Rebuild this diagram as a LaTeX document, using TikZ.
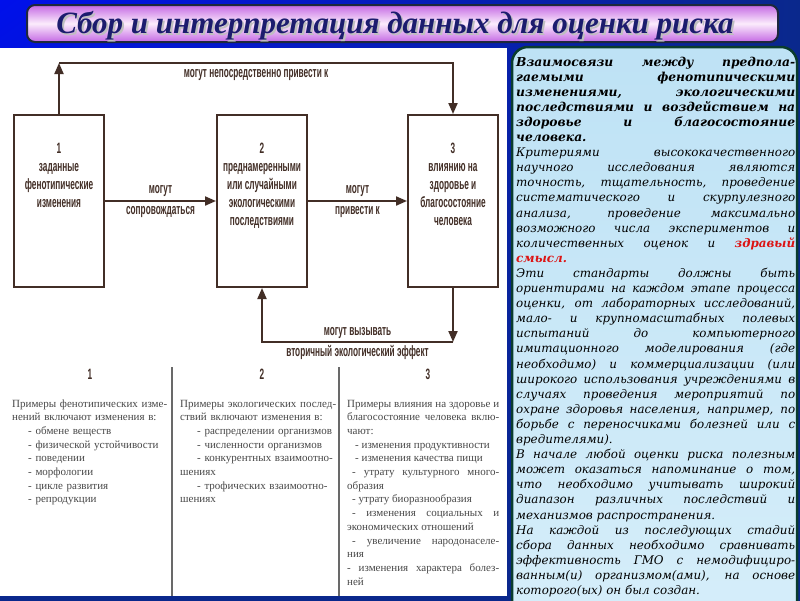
\documentclass[tikz,border=0pt]{standalone}
\usepackage{fontspec}
\setmainfont{Liberation Serif}
\newfontfamily\schemefont[FakeStretch=0.55]{Liberation Sans}
\newfontfamily\panelfont{DejaVu Serif}
\usetikzlibrary{arrows.meta, positioning, shadings}

\tolerance=10000
\hbadness=10000
\hyphenpenalty=10000
\exhyphenpenalty=10000

\definecolor{bgbright}{RGB}{0,16,235}
\definecolor{bgdark}{RGB}{10,40,140}
\definecolor{barviolet}{RGB}{196,104,228}
\definecolor{barlight}{RGB}{252,236,252}
\definecolor{barline}{RGB}{30,40,60}
\definecolor{titleblue}{RGB}{28,28,110}
\definecolor{paneltop}{RGB}{190,226,245}
\definecolor{panelbot}{RGB}{214,238,250}
\definecolor{panelline}{RGB}{10,60,45}
\definecolor{schema}{RGB}{66,46,38}
\definecolor{notegray}{RGB}{72,72,72}
\definecolor{rulegray}{RGB}{105,105,105}
\definecolor{alert}{RGB}{220,20,20}

\tikzset{
  block/.style={draw=schema, line width=2pt, minimum width=90pt, minimum height=172pt, inner sep=0pt},
  blocktext/.style={font=\schemefont\bfseries\fontsize{15}{18}\selectfont, text=schema, align=center, inner sep=0pt},
  flow/.style={draw=schema, line width=2pt, -{Triangle[length=11pt, width=9pt]}},
  title/.style={font=\bfseries\itshape\fontsize{31}{31}\selectfont, inner sep=0pt, anchor=base},
  note/.style={font=\fontsize{11}{13.7}\selectfont, text=notegray, inner sep=0pt, anchor=base west, text width=158pt, align=left},
  panel/.style={font=\panelfont\itshape\fontsize{11.9}{15.1}\selectfont, text width=279pt, align=justify, inner sep=0pt, anchor=base west}
}

\begin{document}
\begin{tikzpicture}[x=1pt, y=-1pt]
  \useasboundingbox (0,0) rectangle (800,600);
  \shade[upper left=bgbright, upper right=bgdark, lower left=bgdark, lower right=bgdark] (0,0) rectangle (800,600);

  % title bar
  \shadedraw[rounded corners=8pt, top color=barviolet, bottom color=barviolet, middle color=barlight,
    draw=barline, line width=2pt] (27,5) rectangle (778,42);
  \node[title, text=black!25] (shadow) at (397,35) {Сбор и интерпретация данных для оценки риска};
  \node[title, text=titleblue] (title) at (395,33) {Сбор и интерпретация данных для оценки риска};

  % panels
  \fill[white] (0,48) rectangle (507,596);
  \shadedraw[rounded corners=16pt, top color=paneltop, bottom color=panelbot,
    draw=panelline, line width=2.5pt] (512,47) rectangle (797,640);

  % scheme
  \node[block] (b1) at (59,201) {};
  \node[block] (b2) at (262,201) {};
  \node[block] (b3) at (453,201) {};
  \node[blocktext, below=29pt of b1.north] (t1) {1\\заданные\\фенотипические\\изменения};
  \node[blocktext, below=29pt of b2.north] (t2) {2\\преднамеренными\\или случайными\\экологическими\\последствиями};
  \node[blocktext, below=29pt of b3.north] (t3) {3\\влиянию на\\здоровье и\\благосостояние\\человека};

  \coordinate (tl) at (59,63);
  \coordinate (bl) at (453,342);
  \draw[flow] (b1) -- (b2)
    node[blocktext, midway, above=3pt] (l1) {могут}
    node[blocktext, midway, below=4pt] (l2) {сопровождаться};
  \draw[flow] (b2) -- (b3)
    node[blocktext, midway, above=3pt] (l3) {могут}
    node[blocktext, midway, below=4pt] (l4) {привести к};
  \draw[flow] (b1) -- (tl);
  \draw[flow] (tl) -| (b3)
    node[blocktext, pos=0.25, below=5pt] (l5) {могут непосредственно привести к};
  \draw[flow] (b3) -- (bl);
  \draw[flow] (bl) -| (b2)
    node[blocktext, pos=0.25, above=2pt] (l6) {могут вызывать}
    node[blocktext, pos=0.25, below=2pt] (l7) {вторичный экологический эффект};

  % examples
  \foreach \x in {172,339}
    \draw[rulegray, line width=1.5pt] (\x,367) -- (\x,596);
  \foreach \x/\n in {90/1,262/2,428/3}
    \node[blocktext] (h\n) at (\x,374) {\n};

  \node[note] (n1) at (12,407) {Примеры фенотипических изме-\\нений включают изменения в:\\
    \hspace*{16pt}- обмене веществ\\\hspace*{16pt}- физической устойчивости\\
    \hspace*{16pt}- поведении\\\hspace*{16pt}- морфологии\\
    \hspace*{16pt}- цикле развития\\\hspace*{16pt}- репродукции};
  \node[note] (n2) at (180,407) {Примеры экологических послед-\\ствий включают изменения в:\\
    \hspace*{17pt}- распределении организмов\\\hspace*{17pt}- численности организмов\\
    \hspace*{17pt}- конкурентных взаимоотно-\\шениях\\
    \hspace*{17pt}- трофических взаимоотно-\\шениях};
  \node[note, text width=152pt, align=justify] (n3) at (347,407) {Примеры влияния на здоровье и\linebreak
    благосостояние человека вклю-\linebreak чают:\par
    \hspace*{8pt}- изменения продуктивности\par
    \hspace*{8pt}- изменения качества пищи\par
    \hspace*{5pt}- утрату культурного много-\linebreak образия\par
    \hspace*{5pt}- утрату биоразнообразия\par
    \hspace*{5pt}- изменения социальных и\linebreak экономических отношений\par
    \hspace*{5pt}- увеличение народонаселе-\linebreak ния\par
    - изменения характера болез-\linebreak ней};

  % side text
  \node[panel] (txt) at (516,66) {%
    {\bfseries\fontsize{12.3}{15.1}\selectfont Взаимосвязи между предпола-\linebreak гаемыми фенотипическими\linebreak
    изменениями, экологическими\linebreak последствиями и воздействием на\linebreak
    здоровье и благосостояние\linebreak человека.\par}
    Критериями высококачественного\linebreak научного исследования являются\linebreak
    точность, тщательность, проведение\linebreak систематического и скурпулезного\linebreak
    анализа, проведение максимально\linebreak возможного числа экспериментов и\linebreak
    количественных оценок и {\color{alert}\bfseries здравый\linebreak смысл.}\par
    Эти стандарты должны быть\linebreak ориентирами на каждом этапе процесса\linebreak
    оценки, от лабораторных исследований,\linebreak мало- и крупномасштабных полевых\linebreak
    испытаний до компьютерного\linebreak имитационного моделирования (где\linebreak
    необходимо) и коммерциализации (или\linebreak широкого использования учреждениями в\linebreak
    случаях проведения мероприятий по\linebreak охране здоровья населения, например, по\linebreak
    борьбе с переносчиками болезней или с\linebreak вредителями).\par
    В начале любой оценки риска полезным\linebreak может оказаться напоминание о том,\linebreak
    что необходимо учитывать широкий\linebreak диапазон различных последствий и\linebreak
    механизмов распространения.\par
    На каждой из последующих стадий\linebreak сбора данных необходимо сравнивать\linebreak
    эффективность ГМО с немодифициро-\linebreak ванным(и) организмом(ами), на основе\linebreak
    которого(ых) он был создан.};
\end{tikzpicture}
\end{document}
